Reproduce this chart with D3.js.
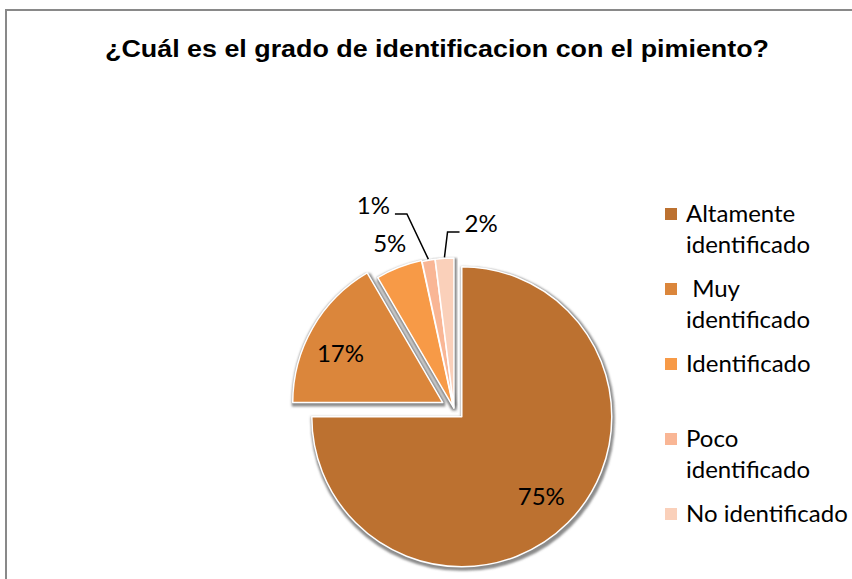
<!DOCTYPE html>
<html>
<head>
<meta charset="utf-8">
<script src="https://cdn.jsdelivr.net/npm/d3@7"></script>
<style>
  html, body { margin: 0; padding: 0; background: #fff; }
  svg { display: block; }
</style>
</head>
<body>
<div id="chart"></div>
<script>
const title = "¿Cuál es el grado de identificacion con el pimiento?";
const categories = ["Altamente identificado", " Muy identificado", "Identificado", "Poco identificado", "No identificado"];
const legendLines = [["Altamente", "identificado"], [" Muy", "identificado"], ["Identificado"], ["Poco", "identificado"], ["No identificado"]];
const values = [75.0, 16.6, 5.0, 1.4, 2.0];
const colors = ["#BC7130", "#DB863B", "#F79A47", "#F9B695", "#FAD0BA"];

let width = 852, height = 579;
let cx = 454, cy = 409, R = 150;
let explode = [11, 13, 2, 1, 1];
// label placement: radius factor and angle shift (deg) from slice middle
let labelPlace = [{r: 0.75, a: 0}, {r: 0.755, a: -4.5}, {r: 1.17, a: 0}, {r: 1.45, a: -12}, {r: 1.24, a: 12}];
let leader = [false, false, false, true, true];

let svg = d3.select('#chart').append('svg')
    .attr('width', width)
    .attr('height', height);

svg.append('rect')
    .attr('x', 0).attr('y', 0)
    .attr('width', width).attr('height', height)
    .attr('fill', '#fff');

// frame
svg.append('rect')
    .attr('x', 6).attr('y', 10)
    .attr('width', 1000).attr('height', 1000)
    .attr('fill', 'none')
    .attr('stroke', '#898989')
    .attr('stroke-width', 2);

svg.append('text')
    .attr('x', 437)
    .attr('y', 57)
    .attr('text-anchor', 'middle')
    .attr('font-family', 'Liberation Sans, Arial, sans-serif')
    .attr('font-weight', 'bold')
    .attr('font-size', 24)
    .attr('textLength', 664)
    .attr('lengthAdjust', 'spacingAndGlyphs')
    .text(title);

// shadow filter
let defs = svg.append('defs');
let f = defs.append('filter').attr('id', 'shadow')
    .attr('x', '-20%').attr('y', '-20%').attr('width', '140%').attr('height', '140%');
f.append('feMorphology').attr('in', 'SourceAlpha').attr('operator', 'dilate').attr('radius', 2).attr('result', 'dil');
f.append('feGaussianBlur').attr('in', 'dil').attr('stdDeviation', 1.2).attr('result', 'blur');
f.append('feOffset').attr('in', 'blur').attr('dx', 1).attr('dy', 2).attr('result', 'off');
f.append('feFlood').attr('flood-color', '#666').attr('flood-opacity', 0.75);
f.append('feComposite').attr('in2', 'off').attr('operator', 'in');

let pie = d3.pie().sort(null).value(d => d);
let arcs = pie(values);
let arc = d3.arc().innerRadius(0).outerRadius(R);

function polar(a, r) {
    return [r * Math.sin(a), -r * Math.cos(a)];
}

let g = svg.append('g').attr('transform', 'translate(' + cx + ',' + cy + ')');

let off = arcs.map((d, i) => polar((d.startAngle + d.endAngle) / 2, explode[i]));

g.selectAll('path.shadow')
    .data(arcs)
    .enter()
    .append('path')
    .attr('class', 'shadow')
    .attr('d', arc)
    .attr('fill', '#000')
    .attr('filter', 'url(#shadow)')
    .attr('transform', (d, i) => 'translate(' + off[i][0] + ',' + off[i][1] + ')');

g.selectAll('path.slice')
    .data(arcs)
    .enter()
    .append('path')
    .attr('class', 'slice')
    .attr('d', arc)
    .attr('fill', (d, i) => colors[i])
    .attr('stroke', '#fff')
    .attr('stroke-width', 1.5)
    .attr('stroke-linejoin', 'round')
    .attr('transform', (d, i) => 'translate(' + off[i][0] + ',' + off[i][1] + ')');

let fs = 24;
arcs.forEach((d, i) => {
    let mid = (d.startAngle + d.endAngle) / 2;
    let la = mid + labelPlace[i].a * Math.PI / 180;
    let p = polar(la, labelPlace[i].r * R);
    let lx = p[0] + off[i][0], ly = p[1] + off[i][1];
    let txt = Math.round(d.data) + '%';
    let t = g.append('text')
        .attr('x', lx)
        .attr('y', ly)
        .attr('dy', '0.35em')
        .attr('text-anchor', 'middle')
        .attr('font-family', 'Lato, Carlito, Calibri, sans-serif')
        .attr('font-size', fs)
        .attr('fill', '#000')
        .text(txt);
    if (leader[i]) {
        let hw = t.node().getComputedTextLength() / 2;
        let s = polar(mid, R + 1);
        s = [s[0] + off[i][0], s[1] + off[i][1]];
        let base = ly + 8;
        let side = lx < s[0] ? 1 : -1;
        let e = [lx + side * (hw + 5), base];
        let el = [e[0] + side * 12, base];
        g.append('path')
            .attr('d', d3.line()([s, el, e]))
            .attr('fill', 'none')
            .attr('stroke', '#000')
            .attr('stroke-width', 1.5);
    }
});

// legend
let legend = svg.append('g').attr('transform', 'translate(665,208)');
legendLines.forEach((lines, i) => {
    let item = legend.append('g').attr('transform', 'translate(0,' + (i * 75) + ')');
    item.append('rect')
        .attr('x', 0).attr('y', 0)
        .attr('width', 12).attr('height', 12)
        .attr('fill', colors[i]);
    lines.forEach((l, j) => {
        item.append('text')
            .attr('x', 21)
            .attr('y', 14 + j * 31)
            .attr('font-family', 'Lato, Carlito, Calibri, sans-serif')
            .attr('font-size', fs)
            .attr('fill', '#000')
            .style('white-space', 'pre')
            .text(l);
    });
});
</script>
</body>
</html>
